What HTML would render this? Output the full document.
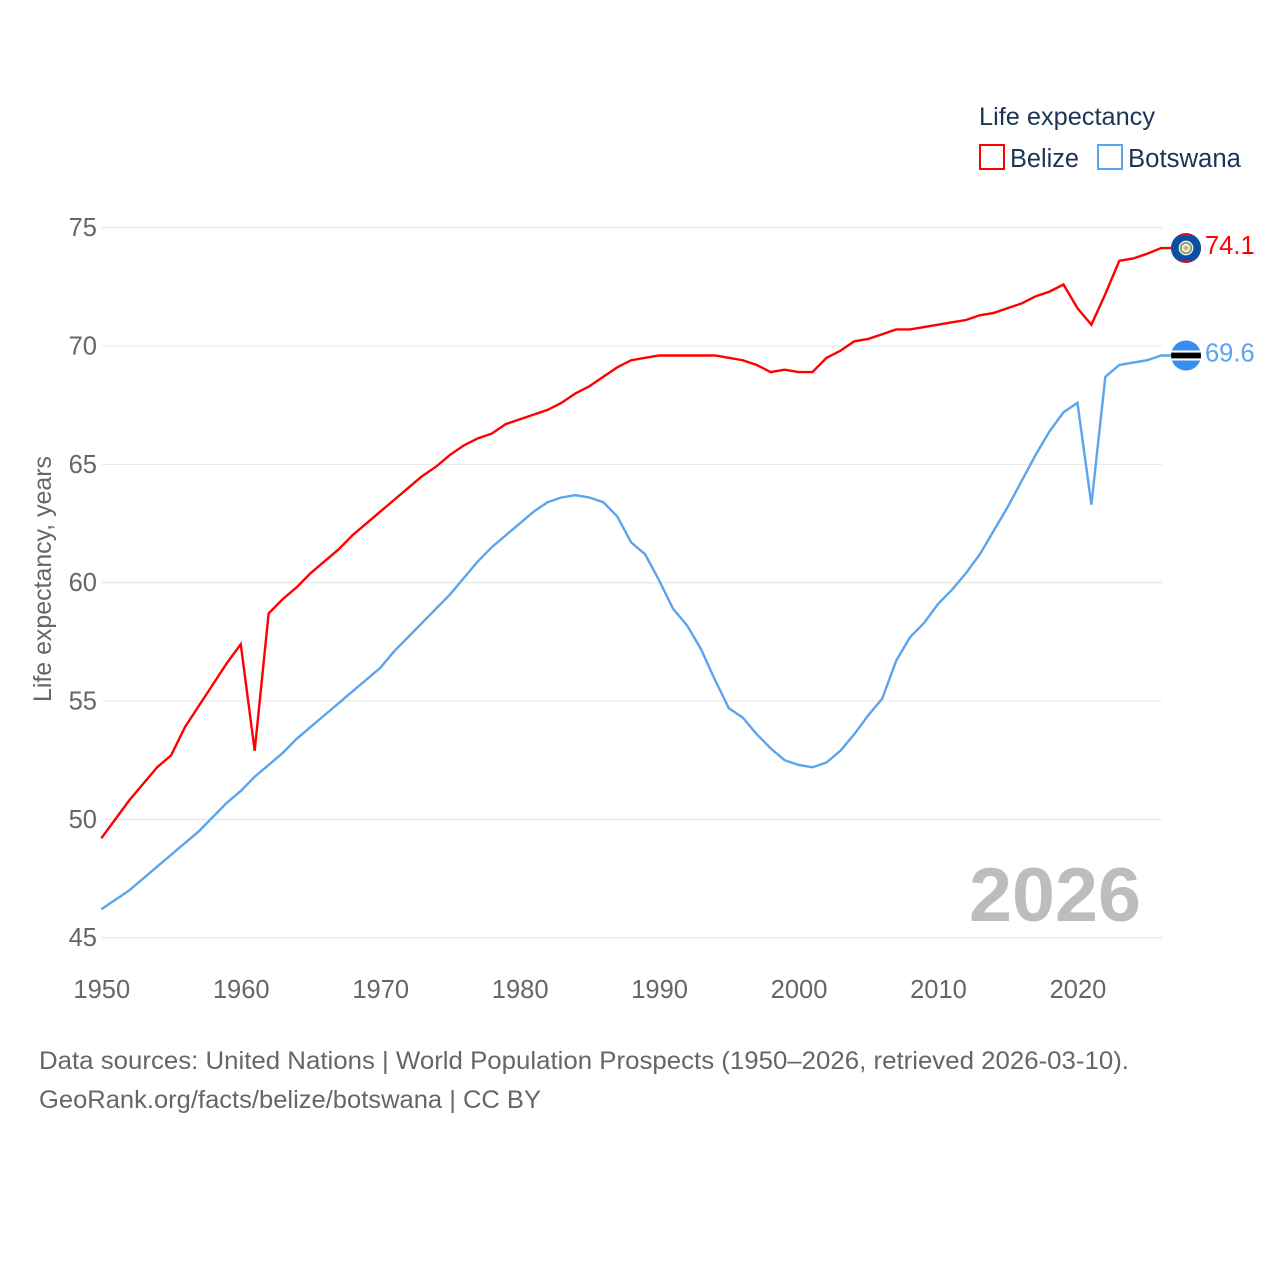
<!DOCTYPE html>
<html lang="en">
<head>
<meta charset="utf-8">
<title>Life expectancy: Belize and Botswana</title>
<style>
html,body{margin:0;padding:0;background:#fff;width:1280px;height:1280px;overflow:hidden}
svg{display:block}
text{font-family:"Liberation Sans",sans-serif}
</style>
</head>
<body>
<svg id="chart" width="1280" height="1280" viewBox="0 0 1280 1280" xmlns="http://www.w3.org/2000/svg">
  <defs>
    <clipPath id="flag-clip-belize"><circle cx="0" cy="0" r="15"></circle></clipPath>
    <clipPath id="flag-clip-botswana"><circle cx="0" cy="0" r="15"></circle></clipPath>
  </defs>
  <g id="grid"></g>
  <g id="yticks"></g>
  <g id="xticks"></g>
  <text transform="translate(51,702) rotate(-90)" font-size="25" fill="#666" textLength="246" lengthAdjust="spacingAndGlyphs">Life expectancy, years</text>
  <text x="969" y="921" font-size="76" font-weight="bold" fill="#bdbdbd" textLength="172" lengthAdjust="spacingAndGlyphs">2026</text>
  <g id="series"></g>
  <g id="flag-belize">
    <g clip-path="url(#flag-clip-belize)">
      <rect x="-15" y="-15" width="30" height="30" fill="#ce1126"></rect>
      <rect x="-15" y="-12.5" width="30" height="25" fill="#0b4ea2"></rect>
      <circle r="7.4" fill="#f2f2ea"></circle>
      <circle r="5.2" fill="none" stroke="#7f9f63" stroke-width="1.8"></circle>
      <circle r="2.4" fill="#d9b27a"></circle>
    </g>
  </g>
  <g id="flag-botswana">
    <g clip-path="url(#flag-clip-botswana)">
      <rect x="-15" y="-15" width="30" height="30" fill="#3a8df0"></rect>
      <rect x="-15" y="-5" width="30" height="10" fill="#fff"></rect>
      <rect x="-15" y="-2.9" width="30" height="5.8" fill="#000"></rect>
    </g>
  </g>
  <text id="value-belize" x="1205" font-size="25.5" fill="#ff0000"></text>
  <text id="value-botswana" x="1205" font-size="25.5" fill="#5ba4ee"></text>
  <g>
    <text x="979" y="125" font-size="25" fill="#1b3557" textLength="176" lengthAdjust="spacingAndGlyphs">Life expectancy</text>
    <rect x="980" y="145" width="24" height="24" fill="#fff" stroke="#ff0000" stroke-width="2"></rect>
    <text x="1010" y="167" font-size="25.5" fill="#1b3557" textLength="69" lengthAdjust="spacingAndGlyphs">Belize</text>
    <rect x="1098" y="145" width="24" height="24" fill="#fff" stroke="#5ba4ee" stroke-width="2"></rect>
    <text x="1128" y="167" font-size="25.5" fill="#1b3557" textLength="113" lengthAdjust="spacingAndGlyphs">Botswana</text>
  </g>
  <text x="39" y="1069" font-size="25" fill="#666" textLength="1090" lengthAdjust="spacingAndGlyphs">Data sources: United Nations | World Population Prospects (1950–2026, retrieved 2026-03-10).</text>
  <text x="39" y="1108" font-size="25" fill="#666" textLength="502" lengthAdjust="spacingAndGlyphs">GeoRank.org/facts/belize/botswana | CC BY</text>
</svg>
<script>
const startYear = 1950;
const yTickValues = [45, 50, 55, 60, 65, 70, 75];
const xTickValues = [1950, 1960, 1970, 1980, 1990, 2000, 2010, 2020];
const belizeValues = [
  49.2, 50.0, 50.8, 51.5, 52.2, 52.7, 53.9, 54.8, 55.7, 56.6,
  57.4, 52.9, 58.7, 59.3, 59.8, 60.4, 60.9, 61.4, 62.0, 62.5,
  63.0, 63.5, 64.0, 64.5, 64.9, 65.4, 65.8, 66.1, 66.3, 66.7,
  66.9, 67.1, 67.3, 67.6, 68.0, 68.3, 68.7, 69.1, 69.4, 69.5,
  69.6, 69.6, 69.6, 69.6, 69.6, 69.5, 69.4, 69.2, 68.9, 69.0,
  68.9, 68.9, 69.5, 69.8, 70.2, 70.3, 70.5, 70.7, 70.7, 70.8,
  70.9, 71.0, 71.1, 71.3, 71.4, 71.6, 71.8, 72.1, 72.3, 72.6,
  71.6, 70.9, 72.2, 73.6, 73.7, 73.9, 74.14
];
const botswanaValues = [
  46.2, 46.6, 47.0, 47.5, 48.0, 48.5, 49.0, 49.5, 50.1, 50.7,
  51.2, 51.8, 52.3, 52.8, 53.4, 53.9, 54.4, 54.9, 55.4, 55.9,
  56.4, 57.1, 57.7, 58.3, 58.9, 59.5, 60.2, 60.9, 61.5, 62.0,
  62.5, 63.0, 63.4, 63.6, 63.7, 63.6, 63.4, 62.8, 61.7, 61.2,
  60.1, 58.9, 58.2, 57.2, 55.9, 54.7, 54.3, 53.6, 53.0, 52.5,
  52.3, 52.2, 52.4, 52.9, 53.6, 54.4, 55.1, 56.7, 57.7, 58.3,
  59.1, 59.7, 60.4, 61.2, 62.2, 63.2, 64.3, 65.4, 66.4, 67.2,
  67.6, 63.3, 68.7, 69.2, 69.3, 69.4, 69.6
];

const NS = 'http://www.w3.org/2000/svg';
function xScale(year) { return 101.3 + (year - 1950) * 13.945; }
function yScale(v) { return 937.7 - (v - 45) * (937.7 - 227.7) / 30; }
function make(tag, attrs, parent) {
  const el = document.createElementNS(NS, tag);
  for (const k in attrs) el.setAttribute(k, attrs[k]);
  parent.appendChild(el);
  return el;
}

const gridG = document.getElementById('grid');
const yG = document.getElementById('yticks');
yTickValues.forEach(function (v) {
  const line = make('line', { x1: 102, x2: 1162, y1: yScale(v), y2: yScale(v), stroke: '#e9e9e9', 'stroke-width': 1.3 }, gridG);
  
  
  const t = make('text', { x: 97, y: yScale(v) + 8.5, 'text-anchor': 'end', 'font-size': 25.5, fill: '#666' }, yG);
  
  
  t.textContent = v;
});

const xG = document.getElementById('xticks');
xTickValues.forEach(function (y) {
  const t = make('text', { x: xScale(y) + 0.5, y: 998, 'text-anchor': 'middle', 'font-size': 25.5, fill: '#666' }, xG);
  
  
  t.textContent = y;
});

const seriesG = document.getElementById('series');
function drawSeries(values, color, name, flagId, labelId) {
  const pts = values.map(function (v, i) { return xScale(startYear + i).toFixed(2) + ',' + yScale(v).toFixed(2); });
  const last = values[values.length - 1];
  const yLast = yScale(last);
  pts.push('1172,' + yLast.toFixed(2));
  const line = make('polyline', { points: pts.join(' '), fill: 'none', stroke: color, 'stroke-width': 2.4, 'stroke-linejoin': 'miter' }, seriesG);
  
  
  document.getElementById(flagId).setAttribute('transform', 'translate(1186,' + yLast.toFixed(2) + ')');
  const label = document.getElementById(labelId);
  label.setAttribute('y', (yLast + 6).toFixed(2));
  label.textContent = last.toFixed(1);
}
drawSeries(belizeValues, '#ff0000', 'belize-line', 'flag-belize', 'value-belize');
drawSeries(botswanaValues, '#5ba4ee', 'botswana-line', 'flag-botswana', 'value-botswana');
</script>
</body>
</html>
